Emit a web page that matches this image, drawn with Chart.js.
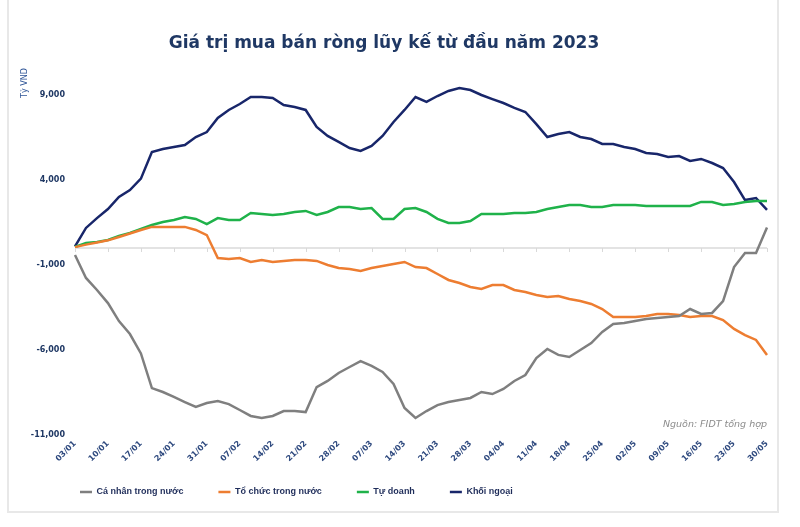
<!DOCTYPE html>
<html>
<head>
<meta charset="utf-8">
<script src="https://cdn.jsdelivr.net/npm/chart.js@4.4.0/dist/chart.umd.min.js"></script>
<style>
  body { margin: 0; background: #fff; }
  #wrap { position: relative; width: 800px; height: 527px; overflow: hidden; }
  #title { position: absolute; left: 0; top: 32px; width: 768px; text-align: center;
    font: bold 17px "DejaVu Sans", sans-serif; line-height: 20px; color: #1f3864; }
  #unit { position: absolute; left: 24px; top: 83px; transform: translate(-50%, -50%) rotate(-90deg);
    font: 8px "DejaVu Sans", sans-serif; color: #2f5597; white-space: nowrap; }
  #source { position: absolute; right: 33px; top: 418px; font: italic 9.5px "DejaVu Sans", sans-serif;
    color: #8c8c8c; white-space: nowrap; }
  .frame { position: absolute; background: #e8e8e8; }
</style>
</head>
<body>
<div id="wrap">
  <canvas id="chartFlow" width="800" height="527"></canvas>
  <div id="title">Giá trị mua bán ròng lũy kế từ đầu năm 2023</div>
  <div id="unit">Tỷ VND</div>
  <div id="source">Nguồn: FIDT tổng hợp</div>
  <div class="frame" style="left:7px;top:0;width:2px;height:513px"></div>
  <div class="frame" style="left:777px;top:0;width:2px;height:513px"></div>
  <div class="frame" style="left:7px;top:511px;width:772px;height:2px"></div>
</div>
<script>
// trading days (Tue, Thu, Mon of each week)
var dates = [
  "03/01","05/01","09/01","10/01","12/01","16/01","17/01","19/01","23/01",
  "24/01","26/01","30/01","31/01","02/02","06/02","07/02","09/02","13/02",
  "14/02","16/02","20/02","21/02","23/02","27/02","28/02","02/03","06/03",
  "07/03","09/03","13/03","14/03","16/03","20/03","21/03","23/03","27/03",
  "28/03","30/03","03/04","04/04","06/04","10/04","11/04","13/04","17/04",
  "18/04","20/04","24/04","25/04","27/04","01/05","02/05","04/05","08/05",
  "09/05","11/05","15/05","16/05","18/05","22/05","23/05","25/05","29/05",
  "30/05"
];
// weekly labels shown on the x axis
var tickDates = ["03/01","10/01","17/01","24/01","31/01","07/02","14/02","21/02",
  "28/02","07/03","14/03","21/03","28/03","04/04","11/04","18/04","25/04",
  "02/05","09/05","16/05","23/05","30/05"];
var yTicks = [-11000, -6000, -1000, 4000, 9000];

// cumulative net buy/sell, ty VND
var caNhan = [-410,-1760,-2470,-3240,-4300,-5060,-6200,-8240,-8470,-8760,
  -9060,-9350,-9120,-9000,-9180,-9530,-9880,-10000,-9880,-9590,
  -9590,-9650,-8180,-7820,-7350,-7000,-6650,-6940,-7290,-8000,
  -9410,-10000,-9590,-9240,-9060,-8940,-8820,-8470,-8590,-8290,
  -7820,-7470,-6470,-5940,-6290,-6410,-6000,-5590,-4940,-4470,
  -4410,-4290,-4180,-4120,-4060,-4000,-3590,-3880,-3820,-3120,
  -1120,-290,-290,1200];
var toChuc = [50,200,320,450,650,850,1060,1240,1240,1240,
  1240,1060,760,-590,-650,-590,-820,-710,-820,-760,
  -710,-710,-760,-1000,-1180,-1240,-1350,-1180,-1060,-940,
  -820,-1120,-1180,-1530,-1880,-2060,-2290,-2410,-2180,-2180,
  -2470,-2590,-2760,-2880,-2820,-3000,-3120,-3290,-3590,-4060,
  -4060,-4060,-4000,-3880,-3880,-3940,-4060,-4000,-4000,-4240,
  -4760,-5120,-5410,-6290];
var tuDoanh = [60,290,350,470,710,880,1120,1350,1530,1650,
  1820,1710,1410,1760,1650,1650,2060,2000,1940,2000,
  2120,2180,1940,2120,2410,2410,2290,2350,1710,1710,
  2290,2350,2120,1710,1470,1470,1590,2000,2000,2000,
  2060,2060,2120,2290,2410,2530,2530,2410,2410,2530,
  2530,2530,2470,2470,2470,2470,2470,2710,2710,2530,
  2590,2710,2760,2760];
var khoiNgoai = [100,1180,1760,2290,3000,3410,4080,5650,5820,5940,
  6060,6530,6820,7650,8120,8470,8880,8880,8820,8410,
  8290,8120,7120,6590,6240,5880,5710,6000,6590,7410,
  8120,8880,8590,8940,9240,9410,9290,9000,8760,8530,
  8240,8000,7290,6530,6710,6820,6530,6410,6120,6120,
  5940,5820,5590,5530,5350,5410,5120,5240,5000,4700,
  3880,2820,2940,2240];

var navyText = "#1f3864";
var legendGap = "            "; // extra room between legend items

// small tick marks under the zero line, one per week
var zeroTicks = {
  id: "zeroTicks",
  afterDatasetsDraw: function(chart) {
    var ctx = chart.ctx;
    var xs = chart.scales.x, ys = chart.scales.y;
    var y0 = ys.getPixelForValue(0);
    ctx.save();
    ctx.strokeStyle = "#d9d9d9";
    ctx.lineWidth = 1;
    dates.forEach(function(d, i) {
      if (tickDates.indexOf(d) < 0) return;
      var x = Math.round(xs.getPixelForValue(i)) + 0.5;
      ctx.beginPath();
      ctx.moveTo(x, y0);
      ctx.lineTo(x, y0 + 4);
      ctx.stroke();
    });
    ctx.restore();
  }
};

function line(label, data, color) {
  return {
    label: label,
    data: data,
    borderColor: color,
    backgroundColor: color,
    borderWidth: 2.5,
    pointRadius: 0,
    tension: 0,
    fill: false
  };
}

Chart.defaults.font.family = "DejaVu Sans";

var ctx = document.getElementById("chartFlow").getContext("2d");
new Chart(ctx, {
  type: "line",
  data: {
    labels: dates,
    datasets: [
      line("Cá nhân trong nước", caNhan, "#7f7f7f"),
      line("Tổ chức trong nước", toChuc, "#ed7d31"),
      line("Tự doanh", tuDoanh, "#1fb24a"),
      line("Khối ngoại", khoiNgoai, "#18266a")
    ]
  },
  options: {
    responsive: false,
    animation: false,
    layout: { padding: { top: 61, left: 10, right: 33, bottom: 20.5 } },
    plugins: {
      title: { display: false },
      tooltip: { enabled: false },
      legend: {
        position: "bottom",
        align: "start",
        fullSize: false,
        labels: {
          usePointStyle: true,
          pointStyle: "line",
          pointStyleWidth: 12,
          padding: 5,
          color: "#1f2d5a",
          font: { family: "Liberation Sans", weight: "bold", size: 9 },
          generateLabels: function(chart) {
            var items = Chart.defaults.plugins.legend.labels.generateLabels(chart);
            items.forEach(function(it) { it.text = it.text + legendGap; });
            return items;
          }
        }
      }
    },
    scales: {
      x: {
        grid: { display: false, drawTicks: false },
        border: { display: false },
        afterFit: function(scale) { scale.height = 47.5; },
        ticks: {
          autoSkip: false,
          minRotation: 45,
          maxRotation: 45,
          padding: 4,
          color: "#2f4a7f",
          font: { size: 8, weight: "bold" },
          callback: function(v, i) {
            var d = dates[i];
            return tickDates.indexOf(d) >= 0 ? d : "";
          }
        }
      },
      y: {
        min: -11000,
        max: 11000,
        border: { display: false },
        afterFit: function(scale) { scale.width = 65; },
        afterBuildTicks: function(scale) {
          scale.ticks = yTicks.concat([0]).sort(function(a, b) { return a - b; })
            .map(function(v) { return { value: v }; });
        },
        grid: {
          drawTicks: false,
          lineWidth: 2,
          color: function(c) {
            return c.tick && c.tick.value === 0 ? "#e3e3e3" : "rgba(0,0,0,0)";
          }
        },
        ticks: {
          padding: 10,
          color: navyText,
          font: { size: 8, weight: "bold" },
          callback: function(v) {
            return v === 0 ? "" : v.toLocaleString("en-US");
          }
        }
      }
    }
  },
  plugins: [zeroTicks]
});
</script>
</body>
</html>
